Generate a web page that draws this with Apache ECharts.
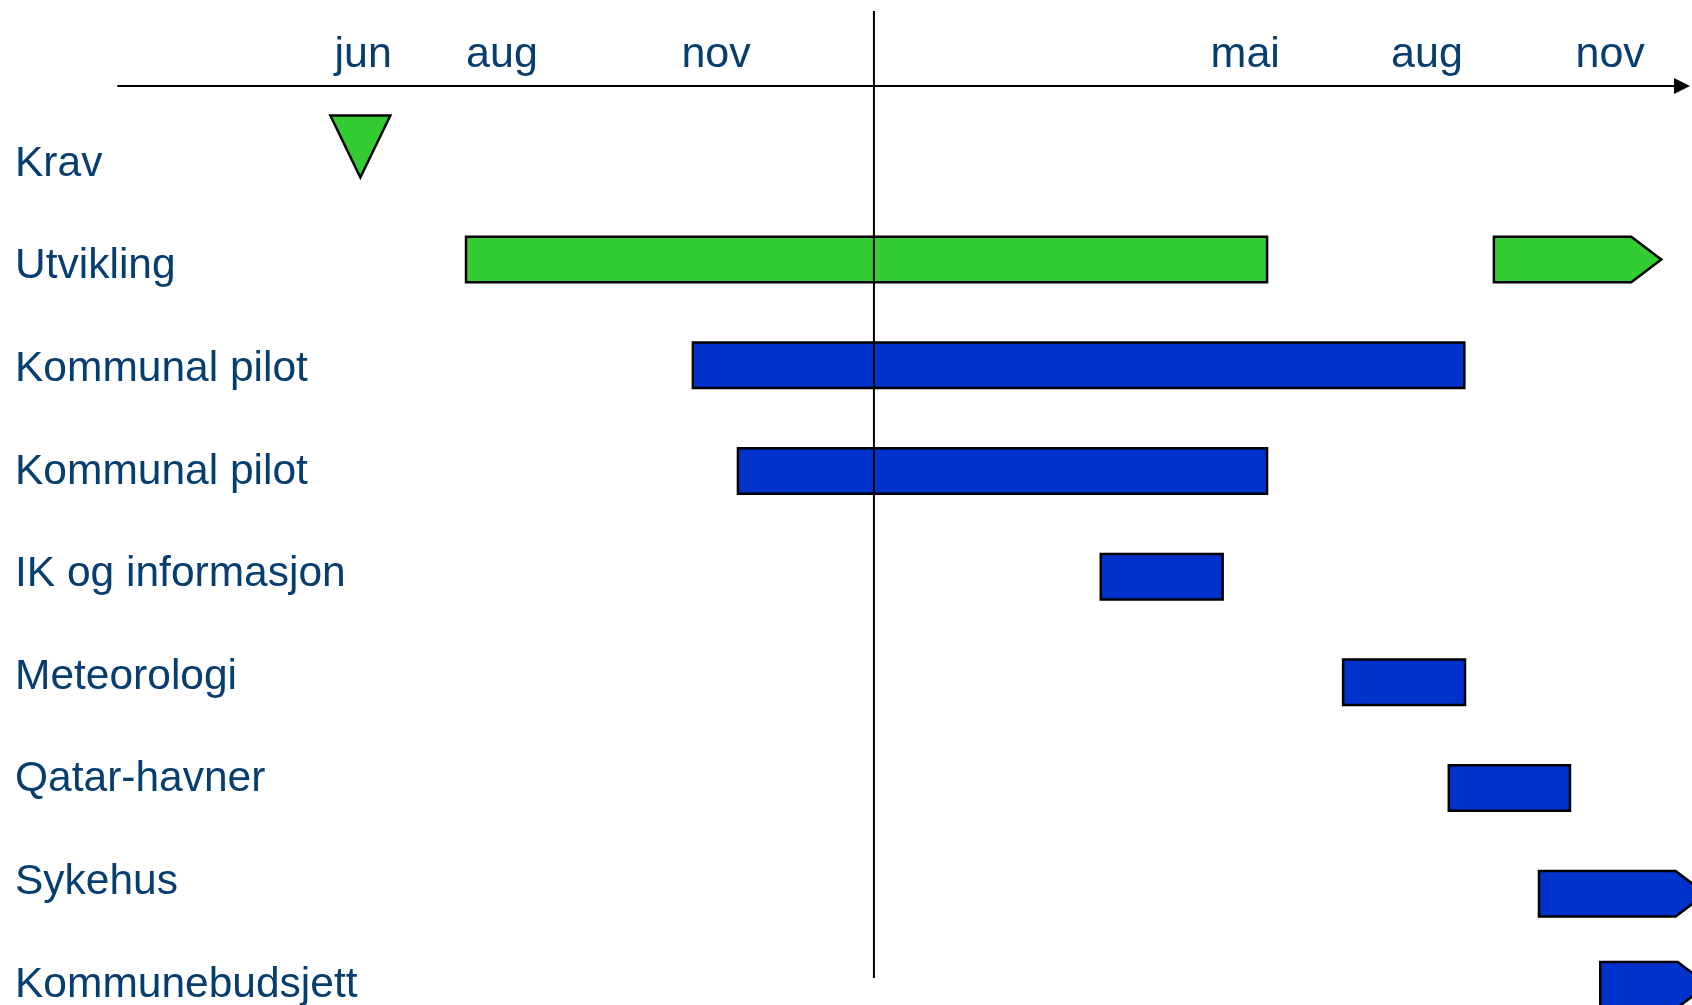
<!DOCTYPE html>
<html>
<head>
<meta charset="utf-8">
<script src="https://cdn.jsdelivr.net/npm/echarts@6/dist/echarts.min.js"></script>
<style>
  html, body { margin: 0; padding: 0; background: #ffffff; }
  #chart { width: 1692px; height: 1005px; }
</style>
</head>
<body>
<div id="chart"></div>
<script>
// ---- data (timeline units: months) ----
const taskLabels = ['Krav', 'Utvikling', 'Kommunal pilot', 'Kommunal pilot', 'IK og informasjon', 'Meteorologi', 'Qatar-havner', 'Sykehus', 'Kommunebudsjett'];
const taskRows = [-0.07, 1, 2, 3, 4, 5, 6, 7, 7.86];

const barTask = [1, 1, 2, 3, 4, 5, 6, 7, 8];
const barStart = [6.44, 21.03, 9.66, 10.30, 15.45, 18.89, 20.39, 21.67, 22.54];
const barEnd = [17.81, 22.98, 20.61, 17.81, 17.18, 20.62, 22.11, 23.61, 23.64];
const barContinues = [0, 1, 0, 0, 0, 0, 0, 1, 1];
const barPhase = [0, 0, 1, 1, 1, 1, 1, 1, 1];   // 0 = utvikling, 1 = pilot

const milestoneTask = [0];
const milestoneAt = [4.94];

const tickValues = [4.98, 6.95, 9.99, 17.50, 20.08, 22.68];
const tickLabels = ['jun', 'aug', 'nov', 'mai', 'aug', 'nov'];

const todayAt = 12.23;

// ---- styles ----
const phaseColors = ['#33CC33', '#0033CC'];
const textColor = '#073E70';
const fontFamily = "'Liberation Sans', Arial, sans-serif";
const X_MIN = 1.5, X_MAX = 23.7;

const barData = barStart.map((s, i) => [s, barEnd[i], taskRows[barTask[i]], barContinues[i], barPhase[i]]);
const milestoneData = milestoneAt.map((v, i) => [v, taskRows[milestoneTask[i]]]);

const chart = echarts.init(document.getElementById('chart'), null, { renderer: 'canvas' });

const option = {
  backgroundColor: '#ffffff',
  animation: false,
  grid: [
    { left: 118, top: 101, width: 1564, height: 951.3, outerBoundsMode: 'none', containLabel: false },      // bars
    { left: 118, top: 112.7, width: 1564, height: 923.4, outerBoundsMode: 'none', containLabel: false },    // row labels
    { left: 118, top: 11, width: 1564, height: 967, outerBoundsMode: 'none', containLabel: false }          // today line
  ],
  xAxis: [
    {
      gridIndex: 0, type: 'value', position: 'top', offset: 15,
      min: X_MIN, max: X_MAX,
      splitLine: { show: false },
      axisTick: { show: false },
      axisLine: {
        show: true, onZero: false,
        symbol: ['none', 'triangle'], symbolSize: [16, 16],
        lineStyle: { color: '#000', width: 2 }
      },
      axisLabel: {
        show: true,
        customValues: tickValues,
        formatter: (v) => { const i = tickValues.indexOf(v); return i >= 0 ? tickLabels[i] : ''; },
        color: textColor, fontSize: 43, fontFamily: fontFamily, margin: 9
      }
    },
    { gridIndex: 1, type: 'value', min: X_MIN, max: X_MAX, show: false },
    { gridIndex: 2, type: 'value', min: X_MIN, max: X_MAX, show: false }
  ],
  yAxis: [
    { gridIndex: 0, type: 'value', min: -0.5, max: 8.5, inverse: true, show: false },
    {
      gridIndex: 1, type: 'category', data: taskLabels, inverse: true,
      axisLine: { show: false }, axisTick: { show: false }, splitLine: { show: false },
      axisLabel: {
        interval: 0, align: 'left', margin: 103,
        color: textColor, fontSize: 42.5, fontFamily: fontFamily
      }
    },
    { gridIndex: 2, type: 'value', min: 0, max: 1, show: false }
  ],
  series: [
    {
      type: 'custom',
      xAxisIndex: 0, yAxisIndex: 0,
      data: barData,
      z: 2,
      renderItem: function (params, api) {
        const s = api.value(0), e = api.value(1), row = api.value(2);
        const cont = api.value(3), ph = api.value(4);
        const p0 = api.coord([s, row]);
        const p1 = api.coord([e, row]);
        const h = api.size([0, 1])[1] * 0.43;
        const top = p0[1] - h / 2, bot = p0[1] + h / 2;
        const pts = cont
          ? [[p0[0], top], [p1[0], top], [p1[0] + h * 0.66, p0[1]], [p1[0], bot], [p0[0], bot]]
          : [[p0[0], top], [p1[0], top], [p1[0], bot], [p0[0], bot]];
        return {
          type: 'polygon',
          shape: { points: pts },
          style: { fill: phaseColors[ph], stroke: '#000', lineWidth: 2.5, lineJoin: 'miter' }
        };
      }
    },
    {
      type: 'scatter',
      xAxisIndex: 0, yAxisIndex: 0,
      data: milestoneData,
      symbol: 'triangle',
      symbolRotate: 180,
      symbolSize: [60, 62],
      itemStyle: { color: phaseColors[0], borderColor: '#000', borderWidth: 2.5, opacity: 1 },
      z: 3
    },
    {
      type: 'line',
      xAxisIndex: 2, yAxisIndex: 2,
      data: [[todayAt, 0], [todayAt, 1]],
      symbol: 'none',
      lineStyle: { color: '#000', width: 2 },
      z: 5
    }
  ]
};

chart.setOption(option);
</script>
</body>
</html>
